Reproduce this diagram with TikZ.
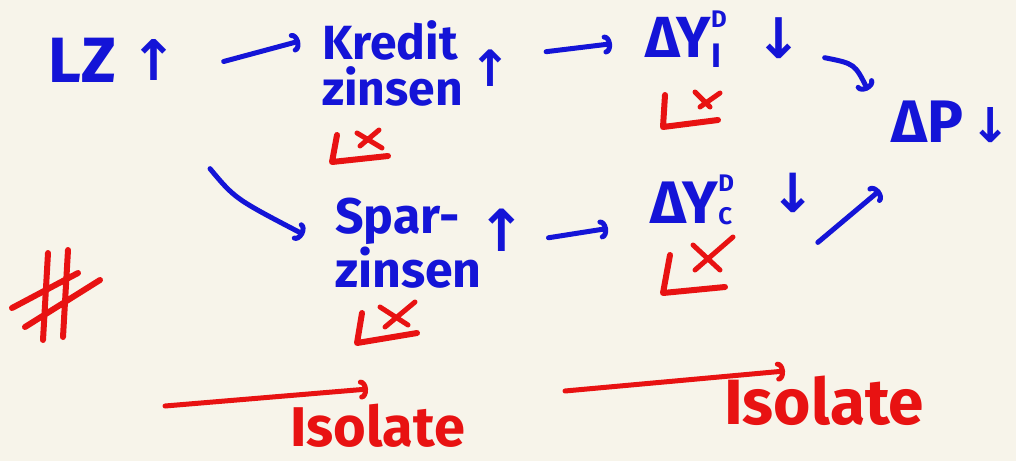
\documentclass[tikz,border=0pt]{standalone}
\usepackage{fontspec}
\setmainfont{Fira Sans}
\newfontfamily\symfont{DejaVu Sans}
\usetikzlibrary{arrows.meta}
\definecolor{ink}{RGB}{20,20,215}
\definecolor{redink}{RGB}{232,18,18}
\definecolor{paper}{RGB}{247,244,234}
\newcommand{\fs}[1]{\fontsize{#1}{#1}\selectfont}
\begin{document}
\begin{tikzpicture}[x=1pt,y=-1pt,
  bl/.style={text=ink,inner sep=0pt,align=left},
  ar/.style={text=ink,font=\symfont\bfseries,inner sep=0pt},
  rl/.style={text=redink,font=\bfseries\fs{56},inner sep=0pt},
  barrow/.style={draw=ink,line width=5pt,line cap=round,line join=round,
     -{Arc Barb[length=7pt,width=20pt,round]}},
  rarrow/.style={draw=redink,line width=5pt,line cap=round,line join=round,
     -{Arc Barb[length=7pt,width=20pt,round]}},
  rmark/.style={draw=redink,line width=6pt,line cap=round,line join=round}]
\fill[paper] (0,0) rectangle (1016,461);
\useasboundingbox (0,0) rectangle (1016,461);
% blue texts
\node[bl,anchor=base west,font=\bfseries\fs{64}] (lz) at (48,82) {LZ};
\node[ar,anchor=base,font=\symfont\bfseries\fs{56}] (lzup) at (154,80) {↑};
\node[bl,anchor=base west,font=\bfseries\fontsize{48}{46}\selectfont] (kredit) at (322,105) {Kredit\\zinsen};
\node[ar,anchor=base,font=\symfont\bfseries\fs{50}] (kup) at (490,86) {↑};
\node[bl,anchor=base west,font=\bfseries\fs{58}] (yi) at (645,57) {ΔY\rlap{\raisebox{30pt}{\fs{24}D}}\raisebox{-10pt}{\fs{34}I}};
\node[ar,anchor=base,font=\symfont\bfseries\fs{56}] (yidown) at (779,58) {↓};
\node[bl,anchor=base west,font=\bfseries\fs{60}] (dp) at (891,142) {ΔP};
\node[ar,anchor=base,font=\symfont\bfseries\fs{48}] (dpdown) at (991,142) {↓};
\node[bl,anchor=base west,font=\bfseries\fontsize{50}{54}\selectfont] (spar) at (335,287) {Spar-\\zinsen};
\node[ar,anchor=base,font=\symfont\bfseries\fs{58}] (sup) at (502,251) {↑};
\node[bl,anchor=base west,font=\bfseries\fs{60}] (yc) at (650,223) {ΔY\rlap{\raisebox{32pt}{\fs{24}D}}\raisebox{-1pt}{\fs{24}C}};
\node[ar,anchor=base,font=\symfont\bfseries\fs{54}] (ycdown) at (793,212) {↓};
% red texts
\node[rl,anchor=base west] (iso1) at (290,446) {Isolate};
\node[rl,anchor=base west,font=\bfseries\fs{64}] (iso2) at (724,424) {Isolate};
% blue connectors
\draw[barrow] ([shift={(46,2)}]lzup.east) -- ([shift={(-22,-22)}]kredit.west);
\draw[barrow] ([shift={(35,-16)}]kup.east) -- ([shift={(-33,5)}]yi.west);
\draw[barrow] ([shift={(22,20)}]yidown.east) .. controls ([shift={(52,26)}]yidown.east) .. ([shift={(-23,-10)}]dp.north west);
\draw[barrow] ([shift={(-125,-74)}]spar.west) .. controls ([shift={(-100,-44)}]spar.west) .. ([shift={(-31,-8)}]spar.west);
\draw[barrow] ([shift={(22,8)}]sup.east) -- ([shift={(-42,29)}]yc.west);
\draw[barrow] ([shift={(2,50)}]ycdown.east) -- ([shift={(-11,48)}]dp.south west);
% red arrows
\coordinate (r1s) at (165,406);
\coordinate (r1e) at (368,389);
\coordinate (r2s) at (565,391);
\coordinate (r2e) at (785,371);
\draw[rarrow] (r1s) -- (r1e);
\draw[rarrow] (r2s) -- (r2e);
% red check marks
\draw[rmark] (337,135) -- (332,162) -- (388,156);
\draw[rmark,line width=5pt] (357,133) -- (382,148) (379,130) -- (360,146);
\draw[rmark] (665,95) -- (663,127) -- (718,120);
\draw[rmark,line width=5pt] (695,92) -- (710,107) (720,93) -- (700,107);
\draw[rmark] (362,313) -- (357,343) -- (417,333);
\draw[rmark,line width=5pt] (380,307) -- (408,325) (415,302) -- (385,327);
\draw[rmark] (670,255) -- (663,293) -- (725,287);
\draw[rmark,line width=5pt] (693,245) -- (720,270) (733,237) -- (695,270);
% hash
\draw[rmark] (48,253) -- (43,340) (68,250) -- (63,337) (12,308) -- (78,273) (25,327) -- (100,280);
\end{tikzpicture}
\end{document}
